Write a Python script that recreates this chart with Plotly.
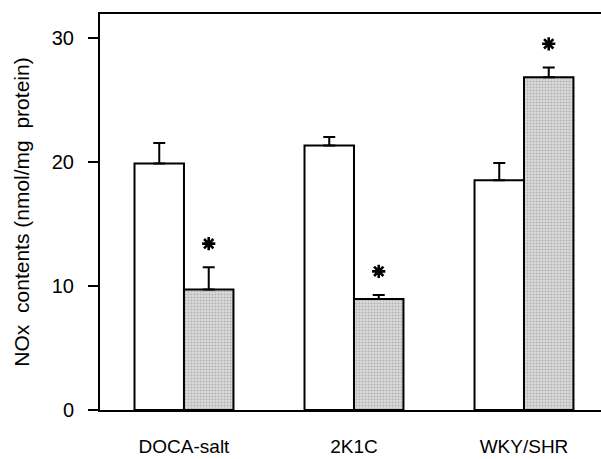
import plotly.graph_objects as go

categories = ["DOCA-salt", "2K1C", "WKY/SHR"]
control_values = [19.85, 21.3, 18.5]
control_errors = [1.65, 0.7, 1.4]
treated_values = [9.7, 8.95, 26.8]
treated_errors = [1.8, 0.32, 0.8]
significant = [True, True, True]
y_ticks = [0, 10, 20, 30]

FONT = "Liberation Sans, Arial, Helvetica, sans-serif"
xpos = list(range(len(categories)))

fig = go.Figure()
fig.add_trace(go.Bar(
    x=xpos, y=control_values,
    marker=dict(color="white", line=dict(color="black", width=2)),
    error_y=dict(type="data", array=control_errors, arrayminus=[0] * 3,
                 symmetric=False, color="black", thickness=2, width=6),
    showlegend=False,
))
fig.add_trace(go.Bar(
    x=xpos, y=treated_values,
    marker=dict(color="#d8d8d8", line=dict(color="black", width=2),
                pattern=dict(shape=".", fgcolor="#888888", bgcolor="#dcdcdc",
                             size=3, solidity=0.4)),
    error_y=dict(type="data", array=treated_errors, arrayminus=[0] * 3,
                 symmetric=False, color="black", thickness=2, width=6),
    showlegend=False,
))

# significance asterisks above the treated bars
offset_bar = 0.1455
star_x = [x + offset_bar for x, s in zip(xpos, significant) if s]
star_y = [v + e + 1.9 for v, e, s in zip(treated_values, treated_errors, significant) if s]
fig.add_trace(go.Scatter(
    x=star_x, y=star_y, mode="markers",
    marker=dict(symbol="asterisk-open", size=11, color="black",
                line=dict(color="black", width=2.6)),
    showlegend=False, hoverinfo="skip",
))

fig.update_layout(
    width=601, height=459,
    margin=dict(l=100, r=0, t=14, b=49),
    paper_bgcolor="white", plot_bgcolor="white",
    barmode="group", bargap=0.418, bargroupgap=0,
    font=dict(family=FONT, color="black", size=20),
)
fig.update_xaxes(
    range=[-0.494, 2.453], tickmode="array", tickvals=xpos, ticktext=categories,
    showline=True, linecolor="black", linewidth=2, mirror=True,
    ticks="", showgrid=False, zeroline=False, automargin=False,
    tickfont=dict(family=FONT, size=19), ticklabelstandoff=18,
)
fig.update_yaxes(
    range=[0, 31.9], tickmode="array", tickvals=y_ticks,
    showline=True, linecolor="black", linewidth=2,
    ticks="outside", ticklen=10, tickwidth=2, tickcolor="black",
    showgrid=False, zeroline=False, automargin=False,
    tickfont=dict(family=FONT, size=20), ticklabelstandoff=10,
    title=dict(text="NOx\u00a0\u00a0contents (nmol/mg\u00a0\u00a0protein)",
               font=dict(family=FONT, size=21), standoff=16),
)

fig.write_html("out.html")
